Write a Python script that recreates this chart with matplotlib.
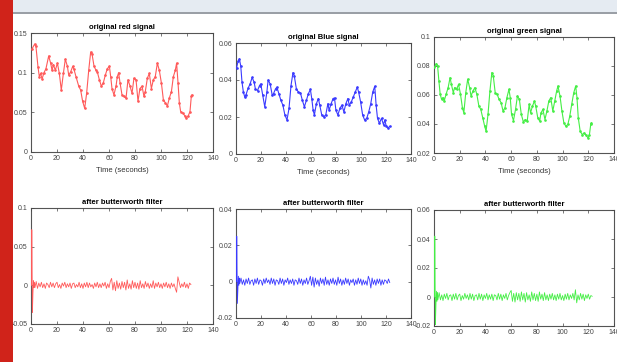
import numpy as np
import matplotlib
matplotlib.use("Agg")
import matplotlib.pyplot as plt
from matplotlib.patches import Rectangle
from matplotlib.ticker import FuncFormatter

# ---------------- data ----------------
red_t = [0.8, 2.8, 3.8, 5.4, 6.4, 7.4, 8.5, 10, 11.5, 13.6, 15.1, 16.2, 17.2, 18.7, 20.3, 21.8, 23.3, 24.9,
         26.4, 28, 29, 30.5, 32.1, 33.1, 34.6, 36.7, 38.2, 39.7, 41.3, 42.8, 44.4, 45.9, 46.9, 48.5, 50, 51,
         52.6, 54.1, 55.6, 57.2, 58.7, 60.3, 61.3, 62.3, 63.8, 65.4, 66.4, 67.4, 68.5, 70, 71.5, 73.1, 74.6,
         76.2, 77.7, 79.2, 80.8, 82.3, 83.8, 85.4, 86.9, 87.9, 89.5, 91, 92.6, 94.1, 95.6, 97.2, 98.7, 100.3,
         101.8, 103.3, 104.9, 106.4, 108, 109.5, 111, 112, 113.1, 114.1, 115.1, 116.7, 118.2, 119.2, 120.8,
         122.3, 123.3, 123.8]
red_v = [0.130, 0.136, 0.133, 0.107, 0.095, 0.099, 0.092, 0.100, 0.105, 0.121, 0.112, 0.103, 0.110, 0.103,
         0.112, 0.099, 0.078, 0.099, 0.117, 0.108, 0.097, 0.101, 0.108, 0.104, 0.095, 0.083, 0.078, 0.064,
         0.055, 0.074, 0.103, 0.126, 0.124, 0.108, 0.103, 0.101, 0.091, 0.083, 0.087, 0.097, 0.105, 0.108,
         0.095, 0.080, 0.072, 0.083, 0.095, 0.100, 0.087, 0.072, 0.070, 0.068, 0.091, 0.083, 0.074, 0.093,
         0.091, 0.064, 0.080, 0.083, 0.070, 0.076, 0.093, 0.099, 0.080, 0.091, 0.095, 0.112, 0.103, 0.087,
         0.066, 0.062, 0.058, 0.068, 0.076, 0.095, 0.103, 0.112, 0.087, 0.062, 0.051, 0.049, 0.046, 0.043,
         0.045, 0.051, 0.070, 0.072]

blue_t = [0.5, 1.6, 2.7, 3.8, 4.8, 5.9, 7, 8, 9.7, 11.3, 12.9, 14.5, 15.5, 17.2, 18.8, 19.8, 21.4, 23, 24.7,
          25.7, 27.3, 29, 30, 31.6, 32.7, 34.3, 35.9, 37.5, 39.1, 40.8, 42.4, 44, 45.6, 46.6, 48.3, 49.9, 51.5,
          53.1, 54.7, 56.3, 57.9, 59.5, 60.6, 61.7, 62.7, 64.3, 65.9, 67, 68.6, 70.2, 71.8, 73.5, 74.5, 76.1,
          77.7, 78.8, 79.9, 81.5, 83.1, 84.7, 86.3, 87.9, 89.5, 90.6, 92.2, 93.8, 95.4, 97, 98.1, 99.7, 101.3,
          102.9, 104.6, 106.2, 107.8, 109.4, 111, 112.1, 113.2, 114.7, 116.4, 118, 119, 120.1, 121.7, 122.8]
blue_v = [0.0467, 0.0500, 0.0515, 0.0476, 0.0388, 0.0335, 0.0308, 0.0320, 0.0356, 0.0379, 0.0414, 0.0388,
          0.0352, 0.0343, 0.0370, 0.0379, 0.0317, 0.0255, 0.0335, 0.0400, 0.0379, 0.0317, 0.0326, 0.0352,
          0.0361, 0.0326, 0.0290, 0.0264, 0.0211, 0.0184, 0.0246, 0.0370, 0.0440, 0.0423, 0.0352, 0.0335,
          0.0331, 0.0290, 0.0255, 0.0290, 0.0326, 0.0349, 0.0300, 0.0237, 0.0211, 0.0272, 0.0300, 0.0264,
          0.0211, 0.0202, 0.0211, 0.0272, 0.0237, 0.0272, 0.0300, 0.0303, 0.0237, 0.0211, 0.0246, 0.0264,
          0.0228, 0.0272, 0.0300, 0.0264, 0.0281, 0.0308, 0.0335, 0.0361, 0.0335, 0.0281, 0.0211, 0.0184,
          0.0193, 0.0228, 0.0272, 0.0335, 0.0366, 0.0264, 0.0193, 0.0166, 0.0193, 0.0158, 0.0184, 0.0154,
          0.0140, 0.0149]

green_t = [0.3, 1.8, 2.8, 3.8, 4.8, 5.9, 6.9, 7.9, 9.4, 11, 12.5, 13.5, 15, 16, 17.6, 19.1, 20.6, 22.1, 23.2,
           24.7, 26.2, 27.7, 28.8, 30.3, 31.8, 33.3, 34.9, 36.4, 37.9, 39.4, 40.5, 42, 43.5, 45, 46.1, 47.6,
           49.1, 50.6, 52.2, 53.7, 55.2, 56.7, 58.3, 59.3, 60.3, 61.8, 63.4, 64.9, 66.4, 67.9, 69.5, 71, 72.5,
           74, 75.1, 76.6, 78.1, 79.1, 80.7, 82.2, 83.2, 84.7, 86.3, 87.8, 89.3, 90.8, 92.4, 93.9, 95.4, 96.4,
           98, 99.5, 101, 102.5, 104.1, 105.6, 107.1, 108.7, 110.2, 111.2, 112.2, 113.7, 115.3, 116.8, 118.3,
           119.8, 120.9, 121.9, 122.4]
green_v = [0.0790, 0.0817, 0.0800, 0.0697, 0.0605, 0.0570, 0.0582, 0.0558, 0.0605, 0.0651, 0.0720, 0.0674,
           0.0616, 0.0651, 0.0639, 0.0674, 0.0605, 0.0512, 0.0477, 0.0616, 0.0709, 0.0651, 0.0593, 0.0628,
           0.0651, 0.0605, 0.0524, 0.0500, 0.0443, 0.0385, 0.0350, 0.0466, 0.0628, 0.0755, 0.0732, 0.0616,
           0.0605, 0.0570, 0.0547, 0.0489, 0.0512, 0.0582, 0.0639, 0.0582, 0.0466, 0.0424, 0.0500, 0.0593,
           0.0570, 0.0466, 0.0415, 0.0431, 0.0420, 0.0535, 0.0477, 0.0524, 0.0558, 0.0524, 0.0443, 0.0420,
           0.0477, 0.0500, 0.0431, 0.0489, 0.0558, 0.0582, 0.0489, 0.0558, 0.0628, 0.0662, 0.0593, 0.0489,
           0.0408, 0.0385, 0.0397, 0.0454, 0.0535, 0.0616, 0.0662, 0.0582, 0.0443, 0.0350, 0.0327, 0.0339,
           0.0322, 0.0304, 0.0327, 0.0397, 0.0408]

# filtered signals: start transient (fine time steps) followed by the ~1 s samples from t=3 to t=123
filt_head_t = [0.4, 0.6, 0.8, 1.1, 1.5, 1.9, 2.3, 2.7]
red_f_head = [0, 0.072, 0.030, -0.035, -0.010, 0.006, -0.003, 0.004]
red_f_tail = [-0.003, 0.005, -0.004, 0.003, -0.002, 0.004, -0.003, 0.002, -0.004, 0.003, 0.001, -0.003, 0.004,
              -0.002, 0.003, -0.003, 0.002, 0.004, -0.003, 0.001, -0.004, 0.003, -0.001, 0.004, -0.003, 0.002,
              -0.002, 0.003, -0.004, 0.002, 0.003, -0.003, 0.001, -0.002, 0.004, -0.003, 0.002, -0.004, 0.003,
              -0.002, 0.004, -0.003, 0.003, -0.002, 0.001, -0.004, 0.003, -0.002, 0.004, -0.003, 0.002, -0.003,
              0.003, -0.001, 0.004, -0.004, 0.002, -0.003, 0.005, 0.009, -0.006, 0.004, -0.007, 0.006, -0.004,
              0.003, -0.005, 0.005, -0.003, 0.004, -0.006, 0.007, -0.004, 0.002, -0.005, 0.006, -0.003, 0.004,
              -0.004, 0.003, -0.005, 0.006, -0.003, 0.002, -0.004, 0.005, -0.002, 0.003, -0.004, 0.002, -0.003,
              0.006, -0.004, 0.003, -0.002, 0.004, -0.003, 0.002, -0.004, 0.003, -0.002, 0.004, -0.003, 0.002,
              -0.004, 0.003, -0.002, 0.002, -0.004, -0.009, 0.011, 0.004, -0.003, 0.002, -0.002, 0.004, -0.003,
              0.002, -0.004, 0.003, 0.001]
blue_f_head = [0, 0.025, 0.010, -0.012, -0.004, 0.003, -0.002, 0.002]
blue_f_tail = [-0.001, 0.002, -0.0015, 0.001, -0.002, 0.0015, -0.001, 0.002, -0.0015, 0.0005, 0.001, -0.002,
               0.0015, -0.001, 0.002, -0.0015, 0.001, 0.0005, -0.002, 0.0015, -0.001, 0.002, -0.0005, 0.001,
               -0.0015, 0.002, -0.001, 0.0015, -0.002, 0.001, 0.0005, -0.0015, 0.002, -0.001, 0.0015, -0.002,
               0.001, -0.0005, 0.002, -0.0015, 0.001, -0.001, 0.0015, -0.002, 0.001, 0.0005, -0.0015, 0.002,
               -0.001, 0.0015, -0.002, 0.001, -0.001, 0.002, -0.0015, 0.0005, 0.003, -0.002, 0.0025, -0.003,
               0.002, -0.0015, 0.001, -0.0025, 0.002, -0.001, 0.0015, -0.002, 0.0025, -0.0015, 0.001, -0.002,
               0.0015, -0.001, 0.002, -0.0015, 0.001, -0.002, 0.0025, -0.001, 0.0015, -0.002, 0.001, -0.0015,
               0.002, -0.001, 0.0015, -0.002, 0.001, -0.0005, 0.0015, -0.002, 0.001, -0.0015, 0.002, -0.001,
               0.0015, -0.002, 0.001, -0.0015, 0.0005, -0.002, 0.003, 0.001, -0.0035, 0.002, -0.0015, 0.001,
               -0.002, 0.0015, -0.001, 0.0015, -0.002, 0.001, -0.0015, 0.001, 0.0005, -0.001, 0.0015, -0.0005]
green_f_head = [0, 0.042, 0.015, -0.019, -0.006, 0.004, -0.003, 0.003]
green_f_tail = [-0.002, 0.003, -0.002, 0.0015, -0.0025, 0.002, -0.001, 0.0025, -0.002, 0.001, 0.0015, -0.0025,
                0.002, -0.0015, 0.0025, -0.002, 0.001, 0.002, -0.0025, 0.001, -0.0015, 0.0025, -0.001, 0.0015,
                -0.002, 0.0025, -0.0015, 0.002, -0.0025, 0.001, 0.0015, -0.002, 0.0025, -0.0015, 0.002, -0.0025,
                0.0015, -0.001, 0.0025, -0.002, 0.0015, -0.0015, 0.002, -0.0025, 0.0015, 0.001, -0.002, 0.0025,
                -0.0015, 0.002, -0.0025, 0.0015, -0.001, 0.0025, -0.002, 0.001, 0.003, 0.0045, -0.003, 0.0025,
                -0.0035, 0.003, -0.002, 0.0025, -0.003, 0.0035, -0.002, 0.0025, -0.0035, 0.003, -0.002, 0.0015,
                -0.003, 0.0035, -0.002, 0.0025, -0.0025, 0.002, -0.003, 0.0035, -0.0015, 0.002, -0.0025, 0.003,
                -0.002, 0.0015, -0.0025, 0.002, -0.0015, 0.0025, -0.002, 0.0015, -0.0025, 0.002, -0.0015, 0.0025,
                -0.002, 0.001, -0.0025, 0.002, -0.0015, 0.0025, -0.002, 0.0015, -0.001, 0.0025, -0.002, 0.005,
                -0.004, 0.0015, -0.002, 0.0025, -0.0015, 0.002, -0.0025, 0.0015, -0.001, 0.002, -0.0015, 0.001,
                0.0005]

titles_top = ["original red signal", "original Blue signal", "original green signal"]
title_bottom = "after butterworth filter"
xlabel_text = "Time (seconds)"
xticks = [0, 20, 40, 60, 80, 100, 120, 140]
yticks_top = [[0, 0.05, 0.1, 0.15], [0, 0.02, 0.04, 0.06], [0.02, 0.04, 0.06, 0.08, 0.1]]
yticks_bottom = [[-0.05, 0, 0.05, 0.1], [-0.02, 0, 0.02, 0.04], [-0.02, 0, 0.02, 0.04, 0.06]]

# ---------------- figure ----------------
W, H = 617, 362
fig = plt.figure(figsize=(W / 100, H / 100), dpi=100)
fig.patch.set_facecolor("white")

def px_rect(x0, y0, x1, y1):
    return [x0 / W, 1 - y1 / H, (x1 - x0) / W, (y1 - y0) / H]

# screenshot decorations
fig.patches.append(Rectangle((13 / W, 1 - 12 / H), 1, 12 / H, transform=fig.transFigure,
                             facecolor="#e5ebf2", edgecolor="none", zorder=0))
fig.patches.append(Rectangle((13 / W, 1 - 14 / H), 1, 2 / H, transform=fig.transFigure,
                             facecolor="#9a9fa6", edgecolor="none", zorder=0))
fig.patches.append(Rectangle((0, 0), 13 / W, 1, transform=fig.transFigure,
                             facecolor="#d0231a", edgecolor="none", zorder=1))

FONT = ["Liberation Sans Narrow", "Liberation Sans", "DejaVu Sans"]
fmt = FuncFormatter(lambda v, p: ("%g" % round(v, 4)))

boxes_top = [(31, 33, 213, 152), (236, 43, 411, 154), (434, 37, 614, 153)]
boxes_bot = [(31, 208, 213, 324), (236, 209, 411, 318), (434, 210, 614, 326)]
colors = ["#ff5a5a", "#3a3aff", "#45ee45"]

orig = [(red_t, red_v), (blue_t, blue_v), (green_t, green_v)]
filt = [(red_f_head, red_f_tail), (blue_f_head, blue_f_tail), (green_f_head, green_f_tail)]

def style(ax, yt):
    ax.set_xlim(0, 140)
    ax.set_ylim(yt[0], yt[-1])
    ax.set_xticks(xticks)
    ax.set_yticks(yt)
    ax.xaxis.set_major_formatter(fmt)
    ax.yaxis.set_major_formatter(fmt)
    ax.tick_params(direction="in", length=2.5, width=0.5, top=True, right=True,
                   labelsize=5, colors="#444444", pad=2.5)
    for lab in ax.get_xticklabels() + ax.get_yticklabels():
        lab.set_family(FONT)
    for s in ax.spines.values():
        s.set_linewidth(0.8)
        s.set_color("#555555")
        s.set_zorder(1)

for i in range(3):
    ax = fig.add_axes(px_rect(*boxes_top[i]))
    t, v = orig[i]
    ax.plot(t, v, color=colors[i], lw=0.8, marker=".", ms=1.8)
    style(ax, yticks_top[i])
    ax.set_title(titles_top[i], fontsize=5.5, fontweight="bold", family=FONT, pad=3)
    ax.set_xlabel(xlabel_text, fontsize=5.5, family=FONT, color="#333333", labelpad=3)

    ax2 = fig.add_axes(px_rect(*boxes_bot[i]))
    head, tail = filt[i]
    ft = filt_head_t + list(np.linspace(3, 123, len(tail)))
    fv = head + tail
    ax2.plot(ft, fv, color=colors[i], lw=0.6, zorder=3)
    style(ax2, yticks_bottom[i])
    ax2.set_title(title_bottom, fontsize=5.5, fontweight="bold", family=FONT, pad=3)

fig.savefig("out.png", dpi=100, facecolor="white")
